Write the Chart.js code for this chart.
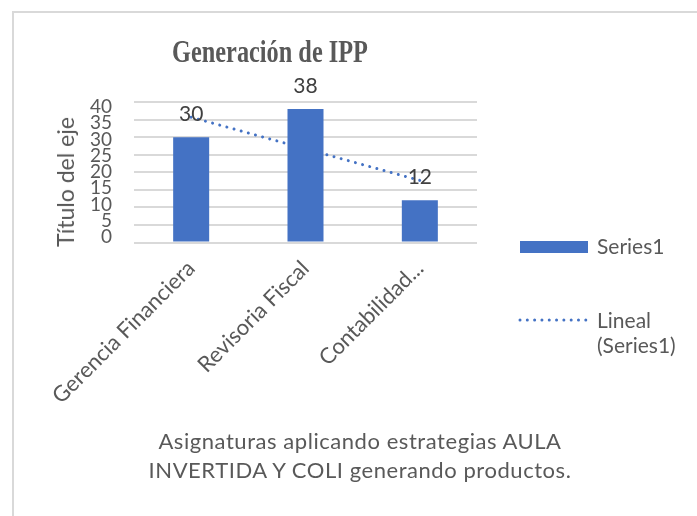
<!DOCTYPE html>
<html><head><meta charset="utf-8">
<script src="https://cdn.jsdelivr.net/npm/chart.js@4"></script>
<style>
html,body{margin:0;padding:0;background:#fff;}
#wrap{position:relative;width:697px;height:516px;overflow:hidden;font-family:Lato,"Open Sans",sans-serif;}
#frame{position:absolute;left:12px;top:11px;width:720px;height:540px;border-left:2px solid #d9d9d9;border-top:2px solid #d9d9d9;}
canvas{position:absolute;left:0;top:0;}
.t{position:absolute;white-space:nowrap;color:#595959;}
#title{left:270px;top:35px;font:bold 32px "Liberation Serif",serif;line-height:32px;transform:translateX(-50%) scaleX(0.76);}
#ytitle{left:65px;top:182px;font-size:23px;line-height:28px;transform:translate(-50%,-50%) rotate(-90deg);}
#caption{left:360px;top:426px;font-size:22px;line-height:29px;letter-spacing:0.55px;text-align:center;transform:translateX(-50%);}
#sw{position:absolute;left:520px;top:241px;width:68px;height:12px;background:#4472C4;}
#l1{left:597px;top:233px;font-size:21px;line-height:25px;}
#l2{left:597px;top:307px;font-size:21px;line-height:25px;}
#dots{position:absolute;left:518px;top:316px;}
</style></head><body>
<div id="wrap">
<div id="frame"></div>
<canvas id="c" width="697" height="516"></canvas>
<div id="title" class="t"></div>
<div id="ytitle" class="t"></div>
<div id="caption" class="t"></div>
<div id="sw"></div>
<div id="l1" class="t"></div>
<svg id="dots" width="72" height="8"><line x1="2" y1="4" x2="68" y2="4" stroke="#4472C4" stroke-width="3" stroke-linecap="round" stroke-dasharray="0.01 7.3"/></svg>
<div id="l2" class="t"></div>
</div>
<script>
const categories = ['Gerencia Financiera', 'Revisoria Fiscal', 'Contabilidad...'];
const seriesValues = [30, 38, 12];
const trendValues = [35.67, 26.67, 17.67];
const yTicks = [0, 5, 10, 15, 20, 25, 30, 35, 40];
const seriesName = 'Series1';
const trendName = ['Lineal', '(Series1)'];
const titleText = 'Generación de IPP';
const yTitle = 'Título del eje';
const captionLines = ['Asignaturas aplicando estrategias AULA', 'INVERTIDA Y COLI generando productos.'];

document.getElementById('title').textContent = titleText;
document.getElementById('ytitle').textContent = yTitle;
document.getElementById('caption').innerHTML = captionLines.join('<br>');
document.getElementById('l1').textContent = seriesName;
document.getElementById('l2').innerHTML = trendName.join('<br>');

const barLabels = {
  id: 'barLabels',
  afterDatasetsDraw(chart) {
    const meta = chart.getDatasetMeta(0);
    const c = chart.ctx;
    c.save();
    c.font = '21px Lato';
    c.fillStyle = '#404040';
    c.textAlign = 'center';
    c.textBaseline = 'alphabetic';
    meta.data.forEach((bar, i) => {
      c.fillText(String(seriesValues[i]), bar.x, bar.y - 16.5);
    });
    c.restore();
  }
};

new Chart(document.getElementById('c'), {
  type: 'bar',
  data: {
    labels: categories,
    datasets: [
      { type: 'bar', label: seriesName, data: seriesValues, backgroundColor: '#4472C4',
        barPercentage: 0.315, categoryPercentage: 1, order: 0 },
      { type: 'line', label: trendName.join(' '), data: trendValues, borderColor: '#4472C4',
        borderWidth: 3, borderDash: [0.01, 7.4], borderCapStyle: 'round', pointRadius: 0,
        fill: false, tension: 0, order: 1 }
    ]
  },
  options: {
    responsive: false, animation: false, devicePixelRatio: 1,
    layout: { padding: { top: 102, right: 220, left: 0, bottom: 0 } },
    plugins: { legend: { display: false }, tooltip: { enabled: false }, title: { display: false } },
    scales: {
      x: {
        grid: { display: false }, border: { display: false },
        ticks: { minRotation: 45, maxRotation: 45, autoSkip: false, color: '#595959',
                 font: { family: 'Lato', size: 22 }, padding: 5 },
        afterFit(s) { s.height = 273.5; }
      },
      y: {
        min: 0, max: 40, weight: 0,
        ticks: { display: false, stepSize: 5 },
        grid: { color: '#d9d9d9', lineWidth: 2, drawTicks: false },
        border: { display: false },
        afterFit(s) { s.width = 0; }
      },
      yl: {
        position: 'left', min: -1.69, max: 41.54, weight: 1,
        grid: { display: false, drawTicks: false }, border: { display: false },
        ticks: { color: '#595959', font: { family: 'Lato', size: 19 }, padding: 22, autoSkip: false },
        afterBuildTicks(s) { s.ticks = yTicks.map(v => ({ value: v })); },
        afterFit(s) { s.width = 134; }
      }
    }
  },
  plugins: [barLabels]
});
</script>
</body></html>
